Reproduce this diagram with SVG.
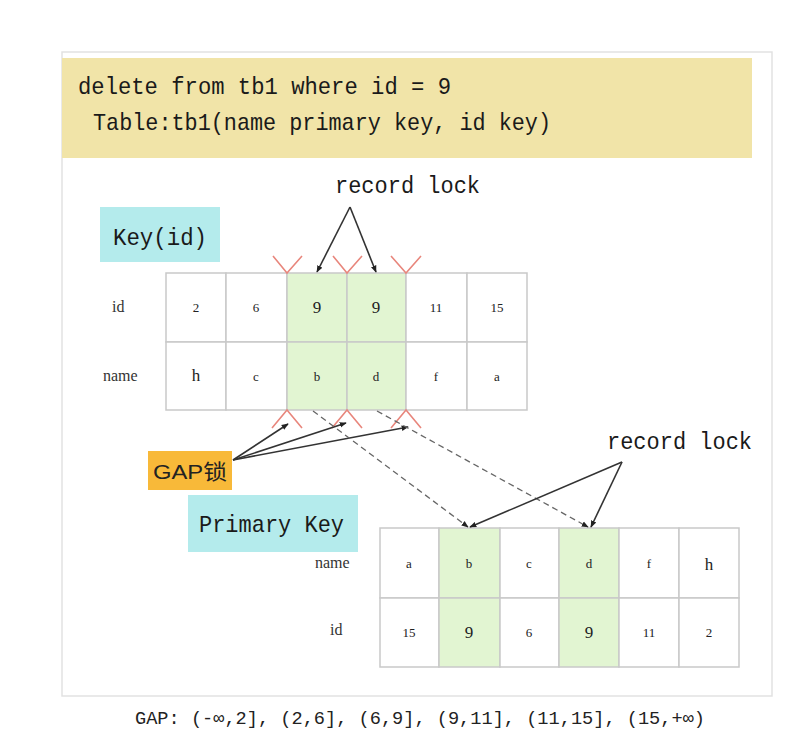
<svg xmlns="http://www.w3.org/2000/svg" width="789" height="748" viewBox="0 0 789 748">
<style>
.mono{font-family:"Liberation Mono","DejaVu Sans Mono",monospace;fill:#1a1a1a}
.serif{font-family:"Liberation Serif","DejaVu Serif",serif;fill:#222;text-anchor:middle}
.lbl{font-family:"Liberation Serif","DejaVu Serif",serif;fill:#333;font-size:16px}
.cell{fill:#fff;stroke:#c9c9c9;stroke-width:1.5}
.hl{fill:#e2f5d2;stroke:#c9c9c9;stroke-width:1.5}
.v{fill:none;stroke:#e8867c;stroke-width:1.6}
.arr{stroke:#333;stroke-width:1.6;fill:none;marker-end:url(#ah)}
.dash{stroke:#666;stroke-width:1.3;fill:none;stroke-dasharray:6 4;marker-end:url(#ah)}
</style>
<defs>
<marker id="ah" viewBox="0 0 10 10" refX="9" refY="5" markerWidth="7" markerHeight="7" orient="auto" markerUnits="userSpaceOnUse">
<path d="M0,1 L10,5 L0,9 z" fill="#222"/>
</marker>
</defs>
<rect width="789" height="748" fill="#fff"/>
<rect x="62" y="52" width="710" height="644" fill="#fff" stroke="#e2e2e2" stroke-width="1.5"/>
<g id="header">
<rect x="62" y="58" width="690" height="100" fill="#f1e4a8"/>
<text class="mono" x="78" y="94" font-size="24" textLength="373" lengthAdjust="spacingAndGlyphs">delete from tb1 where id = 9</text>
<text class="mono" x="93" y="130" font-size="24" textLength="458" lengthAdjust="spacingAndGlyphs">Table:tb1(name primary key, id key)</text>
</g>
<g id="key-id-label">
<rect x="100" y="207" width="120" height="55" fill="#b4ebec"/>
<text class="mono" x="113" y="245" font-size="24" textLength="94" lengthAdjust="spacingAndGlyphs">Key(id)</text>
</g>
<g id="record-lock-top">
<text class="mono" x="335" y="193" font-size="24" textLength="145" lengthAdjust="spacingAndGlyphs">record lock</text>
</g>
<g id="key-table">
<text class="lbl" x="112" y="312">id</text>
<text class="lbl" x="103" y="381">name</text>
<rect class="cell" x="166" y="273" width="60" height="69"/>
<rect class="cell" x="226" y="273" width="61" height="69"/>
<rect class="hl" x="287" y="273" width="60" height="69"/>
<rect class="hl" x="347" y="273" width="59" height="69"/>
<rect class="cell" x="406" y="273" width="61" height="69"/>
<rect class="cell" x="467" y="273" width="60" height="69"/>
<rect class="cell" x="166" y="342" width="60" height="68"/>
<rect class="cell" x="226" y="342" width="61" height="68"/>
<rect class="hl" x="287" y="342" width="60" height="68"/>
<rect class="hl" x="347" y="342" width="59" height="68"/>
<rect class="cell" x="406" y="342" width="61" height="68"/>
<rect class="cell" x="467" y="342" width="60" height="68"/>
<g font-size="13">
<text class="serif" x="196" y="312">2</text>
<text class="serif" x="256" y="312">6</text>
<text class="serif" x="317" y="313" font-size="17">9</text>
<text class="serif" x="376" y="313" font-size="17">9</text>
<text class="serif" x="436" y="312">11</text>
<text class="serif" x="497" y="312">15</text>
<text class="serif" x="196" y="381" font-size="17">h</text>
<text class="serif" x="256" y="381">c</text>
<text class="serif" x="317" y="381">b</text>
<text class="serif" x="376" y="381">d</text>
<text class="serif" x="436" y="381">f</text>
<text class="serif" x="497" y="381">a</text>
</g>
</g>
<g id="primary-key-label">
<rect x="188" y="495" width="170" height="57" fill="#b4ebec"/>
<text class="mono" x="199" y="532" font-size="24" textLength="145" lengthAdjust="spacingAndGlyphs">Primary Key</text>
</g>
<g id="gap-lock-label">
<rect x="148" y="451" width="84" height="39" fill="#f8b939"/>
<text x="153" y="479" font-family="'Liberation Sans','Noto Sans CJK SC',sans-serif" font-size="21" fill="#222" textLength="74" lengthAdjust="spacingAndGlyphs">GAP锁</text>
</g>
<g id="record-lock-right">
<text class="mono" x="607" y="449" font-size="24" textLength="145" lengthAdjust="spacingAndGlyphs">record lock</text>
</g>
<g id="primary-table">
<text class="lbl" x="315" y="568">name</text>
<text class="lbl" x="330" y="635">id</text>
<rect class="cell" x="380" y="528" width="59" height="70"/>
<rect class="hl" x="439" y="528" width="61" height="70"/>
<rect class="cell" x="500" y="528" width="59" height="70"/>
<rect class="hl" x="559" y="528" width="60" height="70"/>
<rect class="cell" x="619" y="528" width="60" height="70"/>
<rect class="cell" x="679" y="528" width="60" height="70"/>
<rect class="cell" x="380" y="598" width="59" height="69"/>
<rect class="hl" x="439" y="598" width="61" height="69"/>
<rect class="cell" x="500" y="598" width="59" height="69"/>
<rect class="hl" x="559" y="598" width="60" height="69"/>
<rect class="cell" x="619" y="598" width="60" height="69"/>
<rect class="cell" x="679" y="598" width="60" height="69"/>
<g font-size="13">
<text class="serif" x="409" y="568">a</text>
<text class="serif" x="469" y="568">b</text>
<text class="serif" x="529" y="568">c</text>
<text class="serif" x="589" y="568">d</text>
<text class="serif" x="649" y="568">f</text>
<text class="serif" x="709" y="570" font-size="17">h</text>
<text class="serif" x="409" y="637">15</text>
<text class="serif" x="469" y="638" font-size="17">9</text>
<text class="serif" x="529" y="637">6</text>
<text class="serif" x="589" y="638" font-size="17">9</text>
<text class="serif" x="649" y="637">11</text>
<text class="serif" x="709" y="637">2</text>
</g>
</g>
<g id="gap-marks">
<path class="v" d="M273,256 L287,273 L302,256"/>
<path class="v" d="M333,256 L347,273 L362,256"/>
<path class="v" d="M391,256 L406,273 L421,256"/>
<path class="v" d="M272,428 L287,410 L302,428"/>
<path class="v" d="M332,428 L347,410 L362,428"/>
<path class="v" d="M391,428 L406,410 L421,428"/>
</g>
<g id="connectors">
<path class="arr" d="M350,207 L317,272"/>
<path class="arr" d="M350,207 L376,272"/>
<path class="arr" d="M233,460 L288,424"/>
<path class="arr" d="M233,460 L346,423"/>
<path class="arr" d="M233,460 L408,427"/>
<path class="dash" d="M313,411 L468,527"/>
<path class="dash" d="M377,411 L588,527"/>
<path class="arr" d="M622,462 L470,527"/>
<path class="arr" d="M622,462 L591,527"/>
</g>
<g id="gap-list">
<text x="135" y="724" font-family="'Liberation Mono','DejaVu Sans Mono',monospace" font-size="19" fill="#222" textLength="570" lengthAdjust="spacingAndGlyphs">GAP: (-∞,2], (2,6], (6,9], (9,11], (11,15], (15,+∞)</text>
</g>
</svg>
